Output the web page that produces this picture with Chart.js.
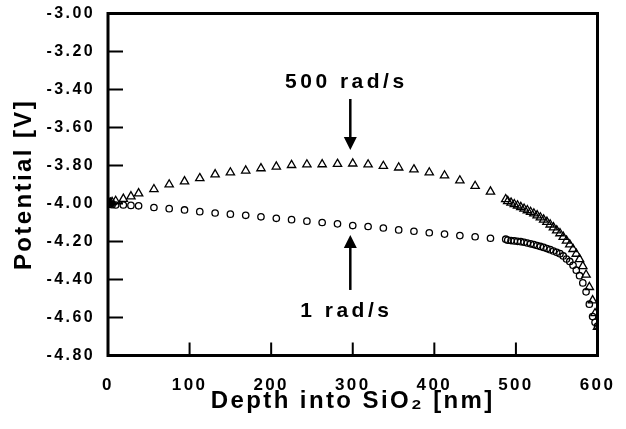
<!DOCTYPE html>
<html>
<head>
<meta charset="utf-8">
<title>Potential vs depth</title>
<script src="https://cdn.jsdelivr.net/npm/chart.js@4"></script>
<style>
  body { margin: 0; background: #fff; }
  #wrap { width: 626px; height: 429px; position: relative; }
</style>
</head>
<body>
<div id="wrap"><canvas id="myChart"></canvas></div>
<script>
// depth into SiO2 [nm], shared by both series
const depth = [
    0, 1.5, 3, 5, 9.4, 18.8, 28.1, 37.5, 56.3, 75, 93.8, 112.5, 131.3, 150, 168.8, 187.5,
    206.3, 225, 243.8, 262.5, 281.3, 300, 318.8, 337.5, 356.3, 375, 393.8, 412.5, 431.3, 450, 468.8, 487.5,
    490, 494, 498, 502, 506, 510, 514, 518, 522, 526, 530, 534, 538, 542, 546, 550,
    554, 558, 562, 566, 570, 574, 578, 582, 586, 590, 594, 597, 600
];

// potential [V] at 500 rad/s (triangles)
const v500 = [
    -4.000, -3.998, -3.996, -3.993, -3.987, -3.976, -3.963, -3.947, -3.925, -3.900, -3.884, -3.867, -3.847, -3.837, -3.827, -3.815,
    -3.806, -3.798, -3.795, -3.794, -3.792, -3.790, -3.795, -3.803, -3.811, -3.821, -3.837, -3.853, -3.879, -3.908, -3.938, -3.978,
    -3.988, -3.996, -4.004, -4.011, -4.019, -4.028, -4.036, -4.045, -4.053, -4.063, -4.074, -4.085, -4.097, -4.111, -4.126, -4.142,
    -4.157, -4.176, -4.196, -4.216, -4.240, -4.265, -4.293, -4.330, -4.375, -4.440, -4.510, -4.578, -4.650
];

// potential [V] at 1 rad/s (circles)
const v1 = [
    -4.000, -4.002, -4.004, -4.006, -4.008, -4.008, -4.010, -4.012, -4.021, -4.027, -4.034, -4.043, -4.050, -4.056, -4.062, -4.070,
    -4.078, -4.085, -4.093, -4.100, -4.107, -4.116, -4.121, -4.129, -4.139, -4.146, -4.154, -4.161, -4.169, -4.175, -4.183, -4.188,
    -4.193, -4.195, -4.197, -4.199, -4.201, -4.204, -4.208, -4.212, -4.216, -4.221, -4.226, -4.231, -4.237, -4.243, -4.250, -4.257,
    -4.264, -4.276, -4.292, -4.305, -4.325, -4.351, -4.380, -4.418, -4.465, -4.530, -4.595, -4.625, -4.645
];

const xTicks = [0, 100, 200, 300, 400, 500, 600];
const yTicks = [-3.0, -3.2, -3.4, -3.6, -3.8, -4.0, -4.2, -4.4, -4.6, -4.8];

// callouts: label text, where the label sits and where the arrow runs (data units)
const labels = [
    { text: '500 rad/s', x: 290, y: -3.36 },
    { text: '1 rad/s', x: 290, y: -4.566 }
];
const arrows = [
    { x: 297, from: -3.45, to: -3.718 },
    { x: 297, from: -4.455, to: -4.166 }
];

const FONT = '"Liberation Sans", Arial, Helvetica, sans-serif';

// the scanned figure uses wide letter spacing: titles are drawn before the
// datasets, tick labels (z: 1) after them
const spacingPlugin = {
    id: 'spacing',
    beforeLayout(chart) { chart.ctx.letterSpacing = '2.4px'; },
    beforeDraw(chart) { chart.ctx.letterSpacing = '2.4px'; },
    afterDatasetsDraw(chart) { chart.ctx.letterSpacing = '2.4px'; }
};

// frame box, inward tick marks and the two callouts
const decorPlugin = {
    id: 'decor',
    afterDraw(chart) {
        const ctx = chart.ctx;
        const a = chart.chartArea;
        const xs = chart.scales.x, ys = chart.scales.y;
        ctx.save();
        ctx.strokeStyle = '#000';
        ctx.fillStyle = '#000';
        ctx.lineWidth = 2;
        ctx.beginPath();
        yTicks.slice(1, -1).forEach(v => {
            const py = ys.getPixelForValue(v);
            ctx.moveTo(a.left, py);
            ctx.lineTo(a.left + 15, py);
        });
        xTicks.slice(1, -1).forEach(v => {
            const px = xs.getPixelForValue(v);
            ctx.moveTo(px, a.bottom);
            ctx.lineTo(px, a.bottom - 13);
        });
        ctx.stroke();
        ctx.lineWidth = 3;
        ctx.strokeRect(a.left, a.top, a.right - a.left, a.bottom - a.top);

        ctx.font = 'bold 21px ' + FONT;
        ctx.letterSpacing = '3.5px';
        ctx.textAlign = 'center';
        ctx.textBaseline = 'middle';
        labels.forEach(l => {
            ctx.fillText(l.text, xs.getPixelForValue(l.x) + 1.75, ys.getPixelForValue(l.y));
        });
        arrows.forEach(ar => {
            const px = xs.getPixelForValue(ar.x);
            const y0 = ys.getPixelForValue(ar.from);
            const y1 = ys.getPixelForValue(ar.to);
            const dir = y1 > y0 ? 1 : -1;
            ctx.lineWidth = 2.5;
            ctx.beginPath();
            ctx.moveTo(px, y0);
            ctx.lineTo(px, y1 - dir * 10);
            ctx.stroke();
            ctx.beginPath();
            ctx.moveTo(px, y1);
            ctx.lineTo(px - 6.5, y1 - dir * 13);
            ctx.lineTo(px + 6.5, y1 - dir * 13);
            ctx.closePath();
            ctx.fill();
        });
        ctx.restore();
    }
};

function noPadding(s) {
    s.paddingTop = 0;
    s.paddingBottom = 0;
    s.paddingLeft = 0;
    s.paddingRight = 0;
}

const ctx = document.getElementById('myChart').getContext('2d');

new Chart(ctx, {
    type: 'scatter',
    data: {
        datasets: [
            {
                label: '500 rad/s',
                data: depth.map((d, i) => ({ x: d, y: v500[i] })),
                pointStyle: 'triangle',
                pointRadius: 4.8,
                pointBorderWidth: 1.3,
                borderColor: '#000',
                backgroundColor: 'rgba(0,0,0,0)'
            },
            {
                label: '1 rad/s',
                data: depth.map((d, i) => ({ x: d, y: v1[i] })),
                pointStyle: 'circle',
                pointRadius: 3.2,
                pointBorderWidth: 1.3,
                borderColor: '#000',
                backgroundColor: 'rgba(0,0,0,0)'
            }
        ]
    },
    options: {
        responsive: true,
        maintainAspectRatio: false,
        animation: false,
        layout: { padding: { left: 0, top: 13.5, right: 28.5, bottom: 0 } },
        plugins: {
            legend: { display: false },
            tooltip: { enabled: false }
        },
        scales: {
            x: {
                type: 'linear',
                min: 0,
                max: 600,
                afterFit: s => { s.height = 73.5; noPadding(s); },
                afterBuildTicks: s => { s.ticks = xTicks.map(v => ({ value: v })); },
                border: { display: false },
                grid: { display: false },
                ticks: {
                    z: 1,
                    color: '#000',
                    font: { family: FONT, size: 17, weight: 'bold' },
                    padding: 12,
                    maxRotation: 0,
                    callback: v => String(v)
                },
                title: {
                    display: true,
                    text: 'Depth into SiO\u2082 [nm]',
                    color: '#000',
                    font: { family: FONT, size: 24, weight: 'bold' },
                    padding: { top: 0, bottom: 13 }
                }
            },
            y: {
                type: 'linear',
                min: -4.8,
                max: -3.0,
                afterFit: s => { s.width = 108; noPadding(s); },
                afterBuildTicks: s => { s.ticks = yTicks.map(v => ({ value: v })); },
                border: { display: false },
                grid: { display: false },
                ticks: {
                    z: 1,
                    color: '#000',
                    font: { family: FONT, size: 16, weight: 'bold' },
                    padding: 5,
                    callback: v => v.toFixed(2)
                },
                title: {
                    display: true,
                    text: 'Potential [V]',
                    color: '#000',
                    font: { family: FONT, size: 24, weight: 'bold' },
                    padding: { top: 10, bottom: 0 }
                }
            }
        }
    },
    plugins: [spacingPlugin, decorPlugin]
});
</script>
</body>
</html>
